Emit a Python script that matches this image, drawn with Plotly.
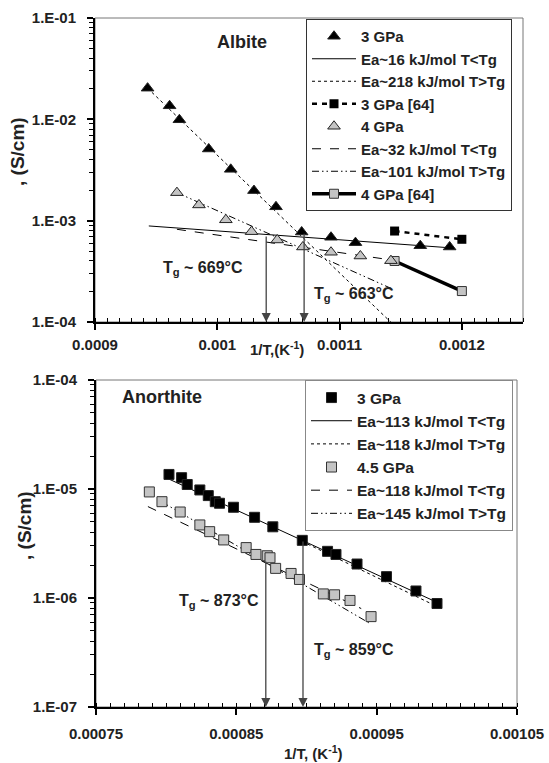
import math
import plotly.graph_objects as go

FONT = "Liberation Sans, Arial, sans-serif"

# ---------------- Albite (top panel) ----------------
alb3_x = [0.000943, 0.000961, 0.000969, 0.000993, 0.001011, 0.00103, 0.001048,
          0.001069, 0.001093, 0.001113, 0.001166, 0.00119]
alb3_y = [2.03e-2, 1.36e-2, 9.9e-3, 5.1e-3, 3.21e-3, 1.98e-3, 1.37e-3,
          7.73e-4, 6.86e-4, 6.07e-4, 5.66e-4, 5.5e-4]
alb4_x = [0.000967, 0.000985, 0.001007, 0.001028, 0.001049, 0.00107, 0.001093,
          0.001117, 0.001142]
alb4_y = [1.89e-3, 1.43e-3, 1.02e-3, 7.79e-4, 6.45e-4, 5.5e-4, 4.88e-4,
          4.48e-4, 4.03e-4]
ref3_x = [0.001145, 0.0012]
ref3_y = [7.9e-4, 6.55e-4]
ref4_x = [0.001145, 0.0012]
ref4_y = [4.0e-4, 2.02e-4]
fit16_x = [0.000944, 0.00119]
fit16_y = [8.87e-4, 5.4e-4]
fit218_x = [0.000943, 0.00117]
fit218_y = [2.03e-2, 4.7e-5]
fit32_x = [0.000967, 0.001142]
fit32_y = [8.22e-4, 4.1e-4]
fit101_x = [0.000967, 0.001142]
fit101_y = [1.89e-3, 2.15e-4]
alb_tg_x = [0.00104, 0.001071]
alb_tg_start = [7.2e-4, 7.7e-4]
alb_tg_text = ["T<sub>g</sub> ~ 669°C", "T<sub>g</sub> ~ 663°C"]
alb_tg_lx = [0.000988, 0.001112]
alb_tg_ly = [3.41e-4, 1.85e-4]
alb_names = ["3 GPa", "Ea~16 kJ/mol T<Tg", "Ea~218 kJ/mol T>Tg", "3 GPa [64]",
             "4 GPa", "Ea~32 kJ/mol T<Tg", "Ea~101 kJ/mol T>Tg", "4 GPa [64]"]
top_xticks = [0.0009, 0.001, 0.0011, 0.0012]
top_xlabels = ["0.0009", "0.001", "0.0011", "0.0012"]
top_yticks = [1e-4, 1e-3, 1e-2, 1e-1]
top_ylabels = ["1.E-04", "1.E-03", "1.E-02", "1.E-01"]

# ---------------- Anorthite (bottom panel) ----------------
an3_x = [0.000802, 0.000811, 0.000815, 0.000824, 0.00083, 0.000835, 0.000838,
         0.000848, 0.000863, 0.000876, 0.000897, 0.000915, 0.000921, 0.000936,
         0.000957, 0.000978, 0.000993]
an3_y = [1.36e-5, 1.27e-5, 1.10e-5, 9.8e-6, 8.7e-6, 7.65e-6, 7.4e-6, 6.8e-6,
         5.5e-6, 4.5e-6, 3.38e-6, 2.68e-6, 2.51e-6, 2.05e-6, 1.57e-6, 1.16e-6,
         8.9e-7]
an45_x = [0.000788, 0.000797, 0.00081, 0.000824, 0.000831, 0.000841, 0.000857,
          0.000864, 0.000872, 0.000874, 0.000878, 0.000889, 0.000895, 0.000912,
          0.00092, 0.000931, 0.000946]
an45_y = [9.4e-6, 7.65e-6, 6.15e-6, 4.68e-6, 4.06e-6, 3.41e-6, 2.9e-6, 2.51e-6,
          2.44e-6, 2.34e-6, 1.87e-6, 1.68e-6, 1.48e-6, 1.09e-6, 1.07e-6, 9.5e-7,
          6.75e-7]
fit113_x = [0.000801, 0.000992]
fit113_y = [1.25e-5, 9.25e-7]
fit118a_x = [0.000897, 0.000991]
fit118a_y = [3.3e-6, 8.6e-7]
fit118b_x = [0.000787, 0.000939]
fit118b_y = [6.9e-6, 8.0e-7]
fit145_x = [0.000797, 0.000945]
fit145_y = [7.6e-6, 5.86e-7]
an_tg_x = [0.000871, 0.0008975]
an_tg_start = [2.23e-6, 3.4e-6]
an_tg_text = ["T<sub>g</sub> ~ 873°C", "T<sub>g</sub> ~ 859°C"]
an_tg_lx = [0.0008375, 0.000934]
an_tg_ly = [9.25e-7, 3.33e-7]
an_names = ["3 GPa", "Ea~113 kJ/mol T<Tg", "Ea~118 kJ/mol T>Tg", "4.5 GPa",
            "Ea~118 kJ/mol T<Tg", "Ea~145 kJ/mol T>Tg"]
bot_xticks = [0.00075, 0.00085, 0.00095, 0.00105]
bot_xlabels = ["0.00075", "0.00085", "0.00095", "0.00105"]
bot_yticks = [1e-7, 1e-6, 1e-5, 1e-4]
bot_ylabels = ["1.E-07", "1.E-06", "1.E-05", "1.E-04"]

GRAY = "#c4c4c4"
DASHDOT2 = "7px,3px,1.5px,3px,1.5px,3px"

fig = go.Figure()


def line(x, y, name, dash, xa, ya, lg, rank, width=1.0):
    fig.add_trace(go.Scatter(x=x, y=y, mode="lines", name=name,
                             line=dict(color="black", width=width, dash=dash),
                             xaxis=xa, yaxis=ya, legend=lg, legendrank=rank))


def pts(x, y, name, symbol, fill, xa, ya, lg, rank, size=10, lcolor="#222"):
    fig.add_trace(go.Scatter(x=x, y=y, mode="markers", name=name,
                             marker=dict(symbol=symbol, size=size, color=fill,
                                         line=dict(color=lcolor, width=1)),
                             xaxis=xa, yaxis=ya, legend=lg, legendrank=rank))


# top panel lines
line(fit16_x, fit16_y, alb_names[1], "solid", "x", "y", "legend", 2)
line(fit218_x, fit218_y, alb_names[2], "dot", "x", "y", "legend", 3)
line(fit32_x, fit32_y, alb_names[5], "dash", "x", "y", "legend", 6)
line(fit101_x, fit101_y, alb_names[6], DASHDOT2, "x", "y", "legend", 7)
fig.add_trace(go.Scatter(x=ref3_x, y=ref3_y, mode="lines+markers", name=alb_names[3],
                         line=dict(color="black", width=2.5, dash="5px,5px"),
                         marker=dict(symbol="square", size=9, color="black"),
                         xaxis="x", yaxis="y", legend="legend", legendrank=4))
fig.add_trace(go.Scatter(x=ref4_x, y=ref4_y, mode="lines+markers", name=alb_names[7],
                         line=dict(color="black", width=3.5),
                         marker=dict(symbol="square", size=9, color=GRAY,
                                     line=dict(color="#333", width=1)),
                         xaxis="x", yaxis="y", legend="legend", legendrank=8))
pts(alb3_x, alb3_y, alb_names[0], "triangle-up", "black", "x", "y", "legend", 1,
    size=11)
pts(alb4_x, alb4_y, alb_names[4], "triangle-up", GRAY, "x", "y", "legend", 5,
    size=11)

# bottom panel lines
line(fit113_x, fit113_y, an_names[1], "solid", "x2", "y2", "legend2", 2)
line(fit118a_x, fit118a_y, an_names[2], "dot", "x2", "y2", "legend2", 3)
line(fit118b_x, fit118b_y, an_names[4], "dash", "x2", "y2", "legend2", 5)
line(fit145_x, fit145_y, an_names[5], DASHDOT2, "x2", "y2", "legend2", 6)
pts(an3_x, an3_y, an_names[0], "square", "black", "x2", "y2", "legend2", 1, size=10)
pts(an45_x, an45_y, an_names[3], "square", GRAY, "x2", "y2", "legend2", 4, size=10,
    lcolor="#333")

tickfont = dict(family=FONT, size=15, color="#222", weight="bold")


def minor_log(lo, hi):
    return [m * 10 ** e for e in range(lo, hi) for m in range(2, 10)]


axis_common = dict(showline=True, linecolor="black", linewidth=2, ticks="outside",
                   ticklen=6, tickwidth=1.5, tickcolor="black", showgrid=False,
                   zeroline=False, tickfont=tickfont, tickmode="array",
                   automargin=False)

fig.update_layout(
    template="none",
    width=549, height=763, autosize=False,
    margin=dict(l=0, r=0, t=0, b=0, pad=0),
    paper_bgcolor="white", plot_bgcolor="white",
    xaxis=dict(domain=[95 / 549, 523 / 549], range=[0.0009, 0.00125], anchor="y",
               tickvals=top_xticks, ticktext=top_xlabels,
               minor=dict(dtick=0.00001, tick0=0.0009, ticks="inside", ticklen=4,
                          tickcolor="black", tickwidth=1),
               ticklabelstandoff=2, **axis_common),
    yaxis=dict(domain=[1 - 322 / 763, 1 - 18 / 763], type="log", range=[-4, -1],
               anchor="x", tickvals=top_yticks, ticktext=top_ylabels,
               minor=dict(tickvals=minor_log(-4, -1), ticks="outside", ticklen=4,
                          tickcolor="black", tickwidth=1),
               ticklabelstandoff=8, **axis_common),
    xaxis2=dict(domain=[96 / 549, 517 / 549], range=[0.00075, 0.00105], anchor="y2",
                tickvals=bot_xticks, ticktext=bot_xlabels,
                minor=dict(dtick=0.00001, tick0=0.00075, ticks="inside", ticklen=4,
                           tickcolor="black", tickwidth=1),
                ticklabelstandoff=6, **axis_common),
    yaxis2=dict(domain=[1 - 707 / 763, 1 - 380 / 763], type="log", range=[-7, -4],
                anchor="x2", tickvals=bot_yticks, ticktext=bot_ylabels,
                minor=dict(tickvals=minor_log(-7, -4), ticks="outside", ticklen=4,
                           tickcolor="black", tickwidth=1),
                ticklabelstandoff=8, **axis_common),
    legend=dict(x=306 / 549, y=1 - 19 / 763, xanchor="left", yanchor="top",
                bordercolor="#333", borderwidth=1, bgcolor="white",
                font=dict(family=FONT, size=15, color="#222", weight="bold"),
                itemwidth=44, tracegroupgap=0),
    legend2=dict(x=305 / 549, y=1 - 380 / 763, xanchor="left", yanchor="top",
                 bordercolor="#888", borderwidth=1, bgcolor="white",
                 font=dict(family=FONT, size=15.5, color="#222", weight="bold"),
                 itemwidth=41, tracegroupgap=0),
    showlegend=True,
)

# thin grey frames around each panel
for xr, yr in (("x domain", "y domain"), ("x2 domain", "y2 domain")):
    fig.add_shape(type="rect", xref=xr, yref=yr, x0=0, x1=1, y0=0, y1=1,
                  line=dict(color="#777", width=1), layer="below")

annots = []
lab_font = dict(family=FONT, size=16, color="#222", weight="bold")
# Tg arrows and labels
for xs, starts, texts, lx, ly, xr, yr, ybot in (
        (alb_tg_x, alb_tg_start, alb_tg_text, alb_tg_lx, alb_tg_ly, "x", "y", 1e-4),
        (an_tg_x, an_tg_start, an_tg_text, an_tg_lx, an_tg_ly, "x2", "y2", 1e-7)):
    for xv, sv in zip(xs, starts):
        annots.append(dict(x=xv, y=math.log10(ybot), xref=xr, yref=yr,
                           ax=xv, ay=math.log10(sv), axref=xr, ayref=yr,
                           showarrow=True, arrowhead=2, arrowsize=1.4,
                           arrowwidth=1.3, arrowcolor="#444", text=""))
    for t, xv, yv in zip(texts, lx, ly):
        annots.append(dict(x=xv, y=math.log10(yv), xref=xr, yref=yr, text=t,
                           xanchor="center", yanchor="middle",
                           showarrow=False, font=lab_font))

title_font = dict(family=FONT, size=18, color="#222", weight="bold")
annots.append(dict(x=0.00102, y=math.log10(0.058), xref="x", yref="y", text="Albite",
                   xanchor="center", yanchor="middle", showarrow=False, font=title_font))
annots.append(dict(x=0.000797, y=math.log10(7.0e-5), xref="x2", yref="y2",
                   text="Anorthite", xanchor="center", yanchor="middle",
                   showarrow=False, font=title_font))

ax_font = dict(family=FONT, size=15, color="#222", weight="bold")
annots.append(dict(x=276.7 / 549, y=1 - 348 / 763, xref="paper", yref="paper",
                   xanchor="center", yanchor="middle",
                   text="1/T,(K<sup>-1</sup>)", showarrow=False, font=ax_font))
annots.append(dict(x=313 / 549, y=1 - 752 / 763, xref="paper", yref="paper",
                   xanchor="center", yanchor="middle",
                   text="1/T, (K<sup>-1</sup>)", showarrow=False, font=ax_font))
yt_font = dict(family=FONT, size=19, color="#222", weight="bold")
annots.append(dict(x=18 / 549, y=1 - 152 / 763, xref="paper", yref="paper",
                   xanchor="center", yanchor="middle",
                   text=", (S/cm)", textangle=-90, showarrow=False, font=yt_font))
annots.append(dict(x=24 / 549, y=1 - 526 / 763, xref="paper", yref="paper",
                   xanchor="center", yanchor="middle",
                   text=", (S/cm)", textangle=-90, showarrow=False, font=yt_font))

fig.update_layout(annotations=annots)
fig.write_html("out.html")
